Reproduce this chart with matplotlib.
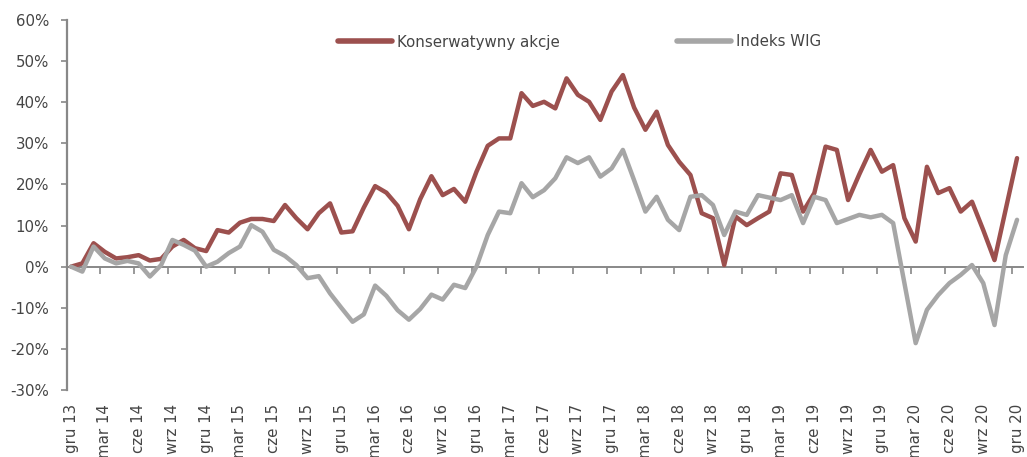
import matplotlib
matplotlib.use("Agg")
import matplotlib.pyplot as plt
import numpy as np

# monthly returns since Dec 2013, in %
konserwatywny = [0.0, 0.8, 5.7, 3.6, 2.0, 2.3, 2.8, 1.5, 1.9, 4.9,
                 6.5, 4.5, 3.8, 8.9, 8.3, 10.7, 11.6, 11.6, 11.1, 15.0,
                 11.8, 9.1, 13.0, 15.4, 8.3, 8.6, 14.4, 19.6, 18.0, 14.8,
                 9.1, 16.4, 22.0, 17.4, 18.9, 15.8, 23.1, 29.4, 31.2, 31.2,
                 42.2, 39.1, 40.1, 38.5, 45.8, 41.8, 40.1, 35.7, 42.6, 46.6,
                 38.7, 33.3, 37.7, 29.6, 25.5, 22.3, 13.0, 11.8, 0.4, 12.2,
                 10.1, 11.8, 13.4, 22.7, 22.3, 13.4, 17.9, 29.2, 28.4, 16.2,
                 22.5, 28.4, 23.1, 24.7, 11.8, 6.1, 24.3, 17.9, 19.1, 13.4,
                 15.8, 8.9, 1.6, 14.0, 26.4]
wig = [0.0, -1.2, 4.9, 2.0, 0.8, 1.4, 0.8, -2.4, 0.4, 6.5,
       5.3, 3.9, 0.0, 1.2, 3.3, 4.9, 10.1, 8.5, 4.1, 2.6,
       0.4, -2.8, -2.3, -6.5, -10.0, -13.4, -11.6, -4.6, -7.1, -10.6,
       -12.9, -10.3, -6.8, -8.0, -4.4, -5.2, 0.0, 7.7, 13.4, 13.0,
       20.3, 16.9, 18.6, 21.5, 26.6, 25.2, 26.6, 21.9, 23.9, 28.4,
       21.0, 13.4, 17.0, 11.4, 8.9, 17.0, 17.4, 15.0, 7.7, 13.4,
       12.6, 17.4, 16.8, 16.2, 17.4, 10.6, 17.0, 16.2, 10.6, 11.6,
       12.6, 12.0, 12.6, 10.6, -4.0, -18.6, -10.5, -6.9, -4.0, -2.0,
       0.4, -4.0, -14.2, 2.8, 11.4]
tick_labels = ["gru 13", "mar 14", "cze 14", "wrz 14", "gru 14", "mar 15",
               "cze 15", "wrz 15", "gru 15", "mar 16", "cze 16", "wrz 16",
               "gru 16", "mar 17", "cze 17", "wrz 17", "gru 17", "mar 18",
               "cze 18", "wrz 18", "gru 18", "mar 19", "cze 19", "wrz 19",
               "gru 19", "mar 20", "cze 20", "wrz 20", "gru 20"]
series_names = ["Konserwatywny akcje", "Indeks WIG"]

red = "#9C504E"
grey = "#A6A6A6"
axis_col = "#888888"
text_col = "#454545"

plt.rcParams["font.family"] = ["DejaVu Sans"]

x = np.arange(len(konserwatywny))

fig = plt.figure(figsize=(10.27, 4.57), dpi=100)
ax = fig.add_axes([67/1027, 1 - 390/457, (1023 - 67)/1027, 370/457])

ax.plot(x, konserwatywny, color=red, lw=3.2, solid_joinstyle="round",
        solid_capstyle="round", label=series_names[0], zorder=3)
ax.plot(x, wig, color=grey, lw=3.2, solid_joinstyle="round",
        solid_capstyle="round", label=series_names[1], zorder=4)

ax.set_xlim(-0.36, 84.53)
ax.set_ylim(-30, 60)

# y axis
ax.set_yticks(np.arange(-30, 61, 10))
ax.set_yticklabels([f"{v}%" for v in range(-30, 61, 10)])
ax.tick_params(axis="y", direction="out", length=4, width=1.2, color=axis_col,
               labelsize=10.8, labelcolor=text_col, pad=9)
ax.spines["left"].set_color(axis_col)
ax.spines["left"].set_linewidth(1.6)
for s in ["top", "right", "bottom"]:
    ax.spines[s].set_visible(False)

# category labels at the bottom, centred on the points
ax.set_xticks(x[::3])
ax.set_xticklabels(tick_labels, rotation=90, va="top", ha="center")
ax.tick_params(axis="x", length=0, labelsize=10.8, labelcolor=text_col, pad=10)

# zero line with tick marks
sec = ax.secondary_xaxis(30/90)
sec.set_xticks(x[::3] - 0.42)
sec.set_xticklabels([])
sec.tick_params(axis="x", direction="out", length=5, width=1.2, color=axis_col)
sec.spines["bottom"].set_color(axis_col)
sec.spines["bottom"].set_linewidth(1.4)

leg = fig.legend(loc="center left", bbox_to_anchor=(338/1027, 1 - 42/457),
                 ncol=2, frameon=False, fontsize=10.8, handlelength=3.6,
                 handletextpad=0.35, columnspacing=7.8, borderpad=0,
                 borderaxespad=0)
for t in leg.get_texts():
    t.set_color(text_col)
for h in leg.get_lines():
    h.set_linewidth(4)

fig.savefig("out.png", dpi=100)
